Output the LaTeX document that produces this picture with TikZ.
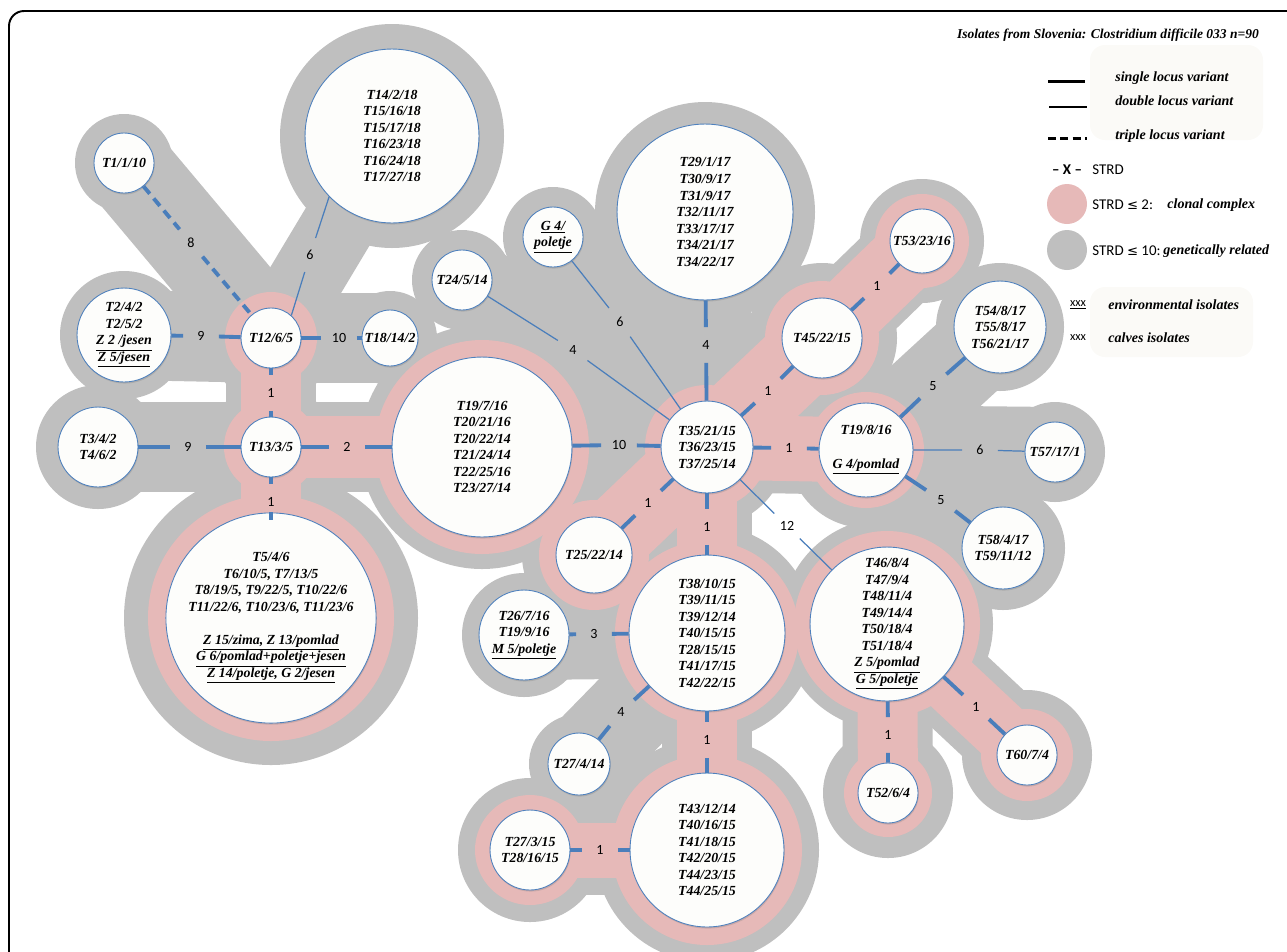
\documentclass[tikz,border=0pt]{standalone}
\usepackage{fontspec}
\setmainfont{Liberation Serif}
\newfontfamily\lblfont{Carlito}
\newfontfamily\symfont{DejaVu Sans}
\usepackage{tikz}
\usetikzlibrary{backgrounds,shadows}
\usepackage{amsmath}
\usepackage{amssymb}
\definecolor{halogrey}{RGB}{191,191,191}
\definecolor{halopink}{RGB}{230,185,184}
\definecolor{strdblue}{RGB}{74,126,187}
\definecolor{rimblue}{RGB}{79,129,189}
\definecolor{isofill}{RGB}{253,253,251}
\definecolor{legbox}{RGB}{251,250,247}
\newcommand{\isofont}{\fontsize{7.9}{9.4}\selectfont\bfseries\itshape}

\begin{document}
\begin{tikzpicture}[x=0.02cm,y=-0.02cm,
    iso/.style={circle,draw=rimblue,line width=0.5pt,fill=isofill,inner sep=0pt,minimum size=#1*0.04cm,align=center,font=\isofont,
      drop shadow={opacity=0.3,shadow xshift=0.4pt,shadow yshift=-0.9pt}},
    strd/.style={circle,inner sep=0pt,minimum size=0.7cm,font=\lblfont\fontsize{8}{9}\selectfont},
    slv/.style={strdblue,line width=2.2pt},
    dlv/.style={strdblue,line width=0.7pt},
    tlv/.style={strdblue,line width=2.2pt,dash pattern=on 5.5pt off 3.5pt},
    legit/.style={anchor=west,inner sep=0pt,font=\fontsize{8}{9.6}\selectfont\bfseries\itshape},
    legsans/.style={anchor=west,inner sep=0pt,font=\lblfont\fontsize{8.5}{10}\selectfont}]
      \useasboundingbox (0,0) rectangle (1287,951);
      \draw[line width=1.1pt,rounded corners=0.3cm] (9,970) -- (9,11) -- (1300,11);

      \node[iso=30] (t1) at (124,163) {T1/1/10};
      \node[iso=87] (t14) at (392,136) {T14/2/18\\T15/16/18\\T15/17/18\\T16/23/18\\T16/24/18\\T17/27/18};
      \node[iso=47] (t2) at (124,335) {T2/4/2\\T2/5/2\\\underline{Z 2 /jesen}\\\underline{Z 5/jesen}};
      \node[iso=30] (t12) at (271,338) {T12/6/5};
      \node[iso=28] (t18) at (390,338) {T18/14/2};
      \node[iso=40] (t3) at (98,447) {T3/4/2\\T4/6/2};
      \node[iso=30] (t13) at (271,447) {T13/3/5};
      \node[iso=90] (t19a) at (482,447) {T19/7/16\\T20/21/16\\T20/22/14\\T21/24/14\\T22/25/16\\T23/27/14};
      \node[iso=95] (t5) at (271,618) {T5/4/6\\T6/10/5, T7/13/5\\T8/19/5, T9/22/5, T10/22/6\\T11/22/6, T10/23/6, T11/23/6\\[9.5pt]
        \underline{Z 15/zima, Z 13/pomlad}\\\underline{G 6/pomlad+poletje+jesen}\\\underline{Z 14/poletje, G 2/jesen}};
      \node[iso=30] (t24) at (462,280) {T24/5/14};
      \node[iso=30] (g4) at (553,237) {\underline{G 4/}\\\underline{poletje}};
      \node[iso=88] (t29) at (705,212) {T29/1/17\\T30/9/17\\T31/9/17\\T32/11/17\\T33/17/17\\T34/21/17\\T34/22/17};
      \node[iso=32] (t53) at (922,241) {T53/23/16};
      \node[iso=40] (t45) at (822,338) {T45/22/15};
      \node[iso=46] (t54) at (1000,327) {T54/8/17\\T55/8/17\\T56/21/17};
      \node[iso=46] (t35) at (707,447) {T35/21/15\\T36/23/15\\T37/25/14};
      \node[iso=47] (t19b) at (866,450) {T19/8/16\\[10pt]\underline{G 4/pomlad}};
      \node[iso=30] (t57) at (1055,452) {T57/17/1};
      \node[iso=41] (t58) at (1003,548) {T58/4/17\\T59/11/12};
      \node[iso=38] (t25) at (594,555) {T25/22/14};
      \node[iso=78] (t38) at (707,633) {T38/10/15\\T39/11/15\\T39/12/14\\T40/15/15\\T28/15/15\\T41/17/15\\T42/22/15};
      \node[iso=45] (t26) at (524,635) {T26/7/16\\T19/9/16\\\underline{M 5/poletje}};
      \node[iso=31] (t274) at (579,764) {T27/4/14};
      \node[iso=40] (t273) at (530,850) {T27/3/15\\T28/16/15};
      \node[iso=77] (t43) at (707,850) {T43/12/14\\T40/16/15\\T41/18/15\\T42/20/15\\T44/23/15\\T44/25/15};
      \node[iso=77] (t46) at (887,624) {T46/8/4\\T47/9/4\\T48/11/4\\T49/14/4\\T50/18/4\\T51/18/4\\\underline{Z 5/pomlad}\\\underline{G 5/poletje}};
      \node[iso=30] (t52) at (888,793) {T52/6/4};
      \node[iso=30] (t60) at (1027,755) {T60/7/4};

      \node[strd] (l8) at (191,243) {8};
      \node[strd] (l6a) at (310,255) {6};
      \node[strd] (l9a) at (201,336) {9};
      \node[strd] (l10a) at (339,338) {10};
      \node[strd] (l1a) at (271,393) {1};
      \node[strd] (l9b) at (188,447) {9};
      \node[strd] (l2) at (347,447) {2};
      \node[strd] (l1b) at (271,502) {1};
      \node[strd] (l10b) at (619,445) {10};
      \node[strd] (l4a) at (573,350) {4};
      \node[strd] (l6b) at (620,322) {6};
      \node[strd] (l4b) at (706,345) {4};
      \node[strd] (l1c) at (768,391) {1};
      \node[strd] (l1d) at (877,286) {1};
      \node[strd] (l1e) at (789,448) {1};
      \node[strd] (l1f) at (648,503) {1};
      \node[strd] (l1g) at (707,527) {1};
      \node[strd] (l12) at (787,526) {12};
      \node[strd] (l5a) at (933,386) {5};
      \node[strd] (l6c) at (980,450) {6};
      \node[strd] (l5b) at (941,500) {5};
      \node[strd] (l3) at (594,634) {3};
      \node[strd] (l4c) at (621,712) {4};
      \node[strd] (l1h) at (707,740) {1};
      \node[strd] (l1i) at (600,850) {1};
      \node[strd] (l1j) at (888,735) {1};
      \node[strd] (l1k) at (976,707) {1};

      \draw[tlv] (t1) -- (l8) (l8) -- (t12);
      \draw[dlv] (t14.224) -- (l6a) (l6a) -- (t12.48);
      \draw[slv] (t2) -- (l9a) (l9a) -- (t12);
      \draw[slv] (t12) -- (l10a) (l10a) -- (t18);
      \draw[slv] (t12) -- (l1a) (l1a) -- (t13);
      \draw[slv] (t3) -- (l9b) (l9b) -- (t13);
      \draw[slv] (t13) -- (l2) (l2) -- (t19a);
      \draw[slv] (t13) -- (l1b) (l1b) -- (t5);
      \draw[slv] (t19a) -- (l10b) (l10b) -- (t35);
      \draw[dlv] (t24) -- (l4a) (l4a) -- (t35);
      \draw[dlv] (g4) -- (l6b) (l6b) -- (t35);
      \draw[slv] (t29) -- (l4b) (l4b) -- (t35);
      \draw[slv] (t35) -- (l1c) (l1c) -- (t45);
      \draw[slv] (t45) -- (l1d) (l1d) -- (t53);
      \draw[slv] (t35) -- (l1e) (l1e) -- (t19b);
      \draw[slv] (t35) -- (l1f) (l1f) -- (t25);
      \draw[slv] (t35) -- (l1g) (l1g) -- (t38);
      \draw[dlv] (t35) -- (l12) (l12) -- (t46);
      \draw[slv] (t19b) -- (l5a) (l5a) -- (t54);
      \draw[dlv] (t19b) -- (l6c) (l6c) -- (t57);
      \draw[slv] (t19b) -- (l5b) (l5b) -- (t58);
      \draw[slv] (t26) -- (l3) (l3) -- (t38);
      \draw[slv] (t38) -- (l4c) (l4c) -- (t274);
      \draw[slv] (t38) -- (l1h) (l1h) -- (t43);
      \draw[slv] (t273) -- (l1i) (l1i) -- (t43);
      \draw[slv] (t46) -- (l1j) (l1j) -- (t52);
      \draw[slv] (t46) -- (l1k) (l1k) -- (t60);

      \begin{scope}[on background layer]
        \foreach \a/\b/\w in {t1/t12/90,t14/t12/74,t2/t12/90,t12/t18/90,t12/t13/90,t3/t13/90,t13/t19a/90,t13/t5/90,t19a/t35/90,
          t24/t35/90,g4/t35/90,t29/t35/90,t35/t45/100,t45/t53/90,t35/t19b/90,t35/t25/95,t35/t38/90,t19b/t54/90,t19b/t57/90,
          t19b/t58/90,t26/t38/90,t38/t274/90,t38/t43/90,t273/t43/90,t46/t52/90,t46/t60/90}
          \draw[halogrey,line width=\w*0.02cm] (\a.center) -- (\b.center);
        \foreach \n/\hr in {t1/49,t14/112,t2/64,t12/64,t18/47,t3/62,t13/64,t19a/122,t5/147,t24/50,g4/50,t29/110,t53/62,t45/75,
          t54/64,t35/80,t19b/78,t57/50,t58/62,t25/72,t38/108,t26/62,t274/50,t273/72,t43/112,t46/106,t52/65,t60/65}
          \fill[halogrey] (\n.center) circle[radius=\hr];
        \foreach \a/\b/\w in {t12/t13/60,t13/t5/60,t13/t19a/62,t35/t45/80,t45/t53/70,t35/t19b/65,t35/t25/75,t35/t38/60,
          t38/t43/60,t273/t43/55,t46/t52/60,t46/t60/60}
          \draw[halopink,line width=\w*0.02cm] (\a.center) -- (\b.center);
        \foreach \n/\hr in {t12/46,t13/47,t19a/107,t5/123,t53/47,t45/57,t35/62,t19b/58,t25/55,t38/92,t273/55,t43/95,t46/93,t52/44,t60/46}
          \fill[halopink] (\n.center) circle[radius=\hr];
      \end{scope}

      \fill[legbox,rounded corners=0.3cm] (1090,45) rectangle (1263,140);
      \fill[legbox,rounded corners=0.3cm] (1090,287) rectangle (1253,357);
      \node[legit,anchor=center,font=\fontsize{7.7}{9}\selectfont\bfseries\itshape] (ttl) at (1108,35) {Isolates from Slovenia: Clostridium difficile 033 n=90};
      \draw[line width=1.7pt] (1048,81) -- (1085,81);
      \node[legit] (sgl) at (1115,78) {single locus variant};
      \draw[line width=0.7pt] (1049,107) -- (1087,107);
      \node[legit] (dbl) at (1115,101) {double locus variant};
      \draw[line width=1.7pt,dash pattern=on 4.5pt off 2.5pt] (1048,138) -- (1087,138);
      \node[legit] (trp) at (1115,136) {triple locus variant};
      \node[legsans,anchor=center] (xx) at (1067,170) {\bfseries – X –};
      \node[legsans] (strdx) at (1092,170) {STRD};
      \node[circle,fill=halopink,minimum size=0.8cm,inner sep=0pt] (pk) at (1067,204) {};
      \node[legsans] (cc1) at (1092,205) {STRD {\symfont\fontsize{7.5}{9}\selectfont ≤} 2:};
      \node[legit] (cc2) at (1167,205) {clonal complex};
      \node[circle,fill=halogrey,minimum size=0.8cm,inner sep=0pt] (gr) at (1067,250) {};
      \node[legsans] (gr1) at (1092,251) {STRD {\symfont\fontsize{7.5}{9}\selectfont ≤} 10:};
      \node[legit] (gr2) at (1163,251) {genetically related};
      \node[legsans,anchor=center,font=\lblfont\fontsize{7}{8}\selectfont] (env1) at (1078,305) {\underline{xxx}};
      \node[legit] (env2) at (1108,305) {environmental isolates};
      \node[legsans,anchor=center,font=\lblfont\fontsize{7}{8}\selectfont] (clv1) at (1078,338) {xxx};
      \node[legit] (clv2) at (1108,338) {calves isolates};
\end{tikzpicture}
\end{document}
